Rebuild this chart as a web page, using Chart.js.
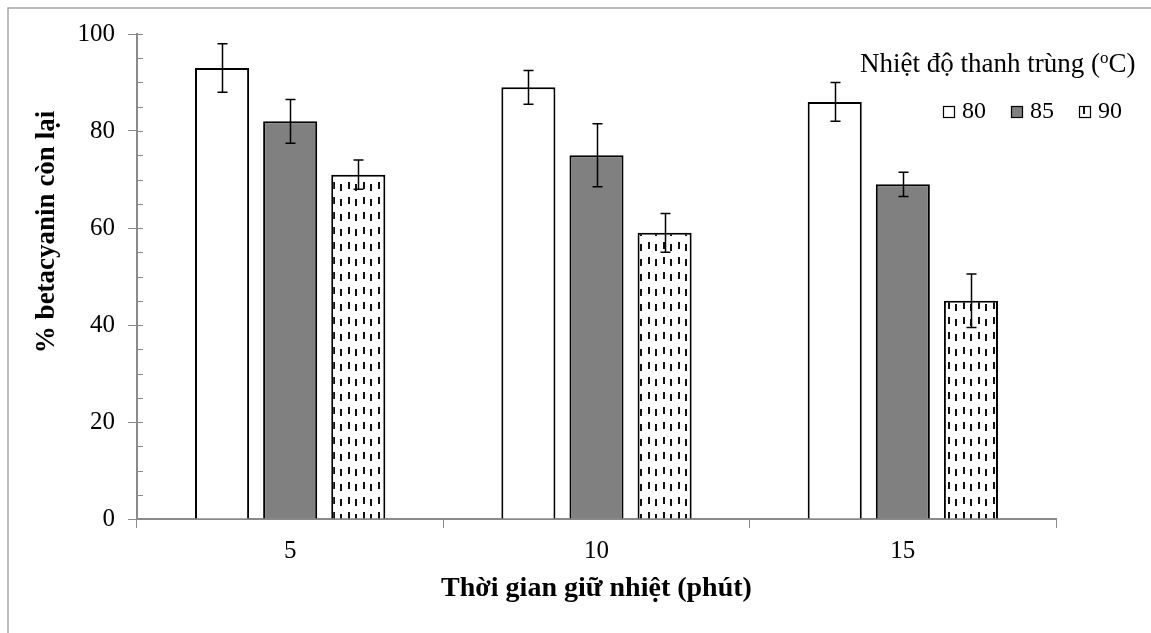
<!DOCTYPE html>
<html>
<head>
<meta charset="utf-8">
<script src="https://cdn.jsdelivr.net/npm/chart.js@4"></script>
<style>
html,body{margin:0;padding:0;background:#fff;}
#wrap{width:1151px;height:633px;position:relative;}
</style>
</head>
<body>
<div id="wrap"><canvas id="c" width="1151" height="633"></canvas></div>
<script>
// ---- data ----
const categories = ['5', '10', '15'];
const seriesLabels = ['80', '85', '90'];
const values80 = [93, 89, 86];
const errors80 = [5, 3.5, 4];
const values85 = [82, 75, 69];
const errors85 = [4.5, 6.5, 2.5];
const values90 = [71, 59, 45];
const errors90 = [3, 4, 5.5];
const legendTitle = 'Nhiệt độ thanh trùng (';
const legendTitleSup = 'o';
const legendTitleEnd = 'C)';
const xTitle = 'Thời gian giữ nhiệt (phút)';
const yTitle = '% betacyanin còn lại';

const FONT = "'Liberation Serif', 'Times New Roman', serif";

// dashed pattern for the 90 series
function makePattern() {
  const t = document.createElement('canvas');
  t.width = 15; t.height = 15;
  const g = t.getContext('2d');
  g.fillStyle = '#fff';
  g.fillRect(0, 0, 15, 15);
  g.fillStyle = '#111';
  g.fillRect(3, 2, 2, 7);
  g.fillRect(10, 4, 2, 7);
  return g.createPattern(t, 'repeat');
}
const ctx = document.getElementById('c').getContext('2d');
const pattern = makePattern();

const errorSets = [errors80, errors85, errors90];

const decorPlugin = {
  id: 'decor',
  beforeDraw(chart) {
    const c = chart.ctx;
    c.save();
    c.fillStyle = '#fff';
    c.fillRect(0, 0, chart.width, chart.height);
    c.strokeStyle = '#a6a6a6';
    c.lineWidth = 1.5;
    c.beginPath();
    c.moveTo(8, chart.height);
    c.lineTo(8, 8);
    c.lineTo(chart.width, 8);
    c.stroke();
    c.restore();
  },
  afterDatasetsDraw(chart) {
    const c = chart.ctx;
    const ys = chart.scales.y;
    c.save();
    c.strokeStyle = '#000';
    c.lineWidth = 1.5;
    chart.data.datasets.forEach((ds, di) => {
      const meta = chart.getDatasetMeta(di);
      meta.data.forEach((el, i) => {
        const v = ds.data[i], e = errorSets[di][i];
        const x = Math.round(el.x) + 0.5;
        const yt = ys.getPixelForValue(v + e);
        const yb = ys.getPixelForValue(v - e);
        c.beginPath();
        c.moveTo(x, yt); c.lineTo(x, yb);
        c.moveTo(x - 5, yt); c.lineTo(x + 5, yt);
        c.moveTo(x - 5, yb); c.lineTo(x + 5, yb);
        c.stroke();
      });
    });
    c.restore();
  },
  afterDraw(chart) {
    const c = chart.ctx;
    const ys = chart.scales.y;
    const area = chart.chartArea;
    c.save();
    // minor ticks inside
    c.strokeStyle = '#8a8a8a';
    c.lineWidth = 1;
    for (let v = 5; v <= 100; v += 5) {
      const y = Math.round(ys.getPixelForValue(v)) + 0.5;
      c.beginPath();
      c.moveTo(area.left, y); c.lineTo(area.left + 6, y);
      c.stroke();
    }
    // axis titles
    c.fillStyle = '#000';
    c.font = 'bold 28px ' + FONT;
    c.textAlign = 'center';
    c.textBaseline = 'middle';
    c.fillText(xTitle, (area.left + area.right) / 2, 589);
    c.save();
    c.translate(47, 232);
    c.rotate(-Math.PI / 2);
    c.font = 'bold 27px ' + FONT;
    c.fillText(yTitle, 0, 0);
    c.restore();
    // legend title
    c.font = '27px ' + FONT;
    c.textAlign = 'left';
    c.textBaseline = 'middle';
    let x = 860;
    const ty = 65;
    c.fillText(legendTitle, x, ty);
    x += c.measureText(legendTitle).width;
    c.font = '17px ' + FONT;
    c.fillText(legendTitleSup, x, ty - 6);
    x += c.measureText(legendTitleSup).width;
    c.font = '27px ' + FONT;
    c.fillText(legendTitleEnd, x, ty);
    // legend items
    const boxX = [943, 1011, 1079];
    chart.data.datasets.forEach((ds, di) => {
      const bx = boxX[di], by = 106;
      c.fillStyle = ds.backgroundColor;
      c.fillRect(bx, by, 12, 12);
      c.strokeStyle = '#000';
      c.lineWidth = 1.2;
      c.strokeRect(bx + 0.5, by + 0.5, 11, 11);
      c.fillStyle = '#000';
      c.font = '24px ' + FONT;
      c.fillText(ds.label, bx + 19, 112);
    });
    c.restore();
  }
};

new Chart(ctx, {
  type: 'bar',
  data: {
    labels: categories,
    datasets: [
      { label: seriesLabels[0], data: values80, backgroundColor: '#ffffff', borderColor: '#000', borderWidth: 2, borderSkipped: 'start' },
      { label: seriesLabels[1], data: values85, backgroundColor: '#808080', borderColor: '#000', borderWidth: 2, borderSkipped: 'start' },
      { label: seriesLabels[2], data: values90, backgroundColor: pattern, borderColor: '#000', borderWidth: 2, borderSkipped: 'start' }
    ]
  },
  options: {
    responsive: false,
    animation: false,
    devicePixelRatio: 1,
    layout: { padding: { left: 0, right: 95, top: 34, bottom: 0 } },
    datasets: { bar: { categoryPercentage: 0.667, barPercentage: 0.794 } },
    plugins: { legend: { display: false }, tooltip: { enabled: false } },
    scales: {
      x: {
        grid: { offset: true, drawOnChartArea: false, drawTicks: true, tickLength: 9, color: '#8a8a8a', lineWidth: 1 },
        border: { color: '#8a8a8a', width: 2 },
        ticks: { font: { family: FONT, size: 25 }, color: '#000', padding: 8 },
        afterFit(s) { s.height = 114; }
      },
      y: {
        min: 0, max: 100,
        grid: { drawOnChartArea: false, drawTicks: true, tickLength: 9, color: '#8a8a8a', lineWidth: 1 },
        border: { color: '#8a8a8a', width: 2 },
        ticks: { stepSize: 20, font: { family: FONT, size: 25 }, color: '#000', padding: 13 },
        afterFit(s) { s.width = 137; }
      }
    }
  },
  plugins: [decorPlugin]
});
</script>
</body>
</html>
